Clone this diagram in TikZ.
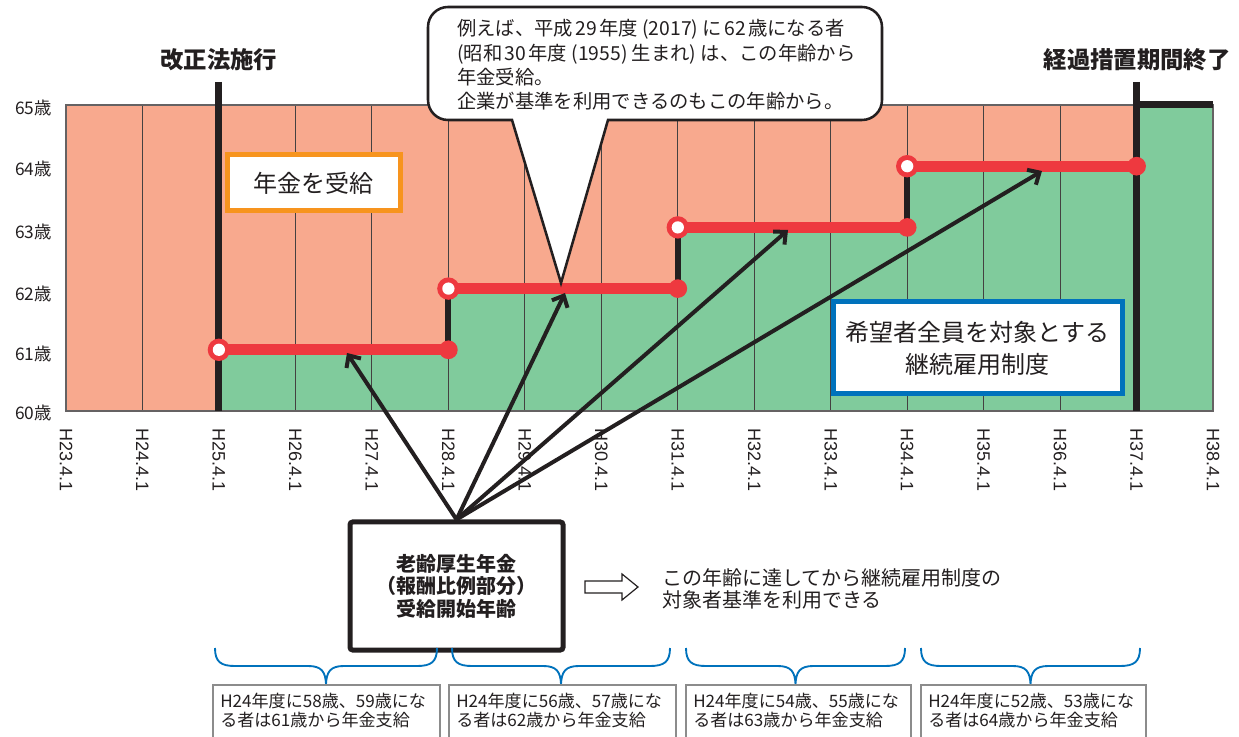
\documentclass[tikz,border=0pt]{standalone}
\usepackage{fontspec}
\setmainfont{Noto Sans CJK JP}
\newfontfamily\latf{Liberation Sans}
\usetikzlibrary{arrows.meta}
\definecolor{salmon}{HTML}{F8A98E}
\definecolor{grn}{HTML}{80CB9C}
\definecolor{redl}{HTML}{EE393F}
\definecolor{orng}{HTML}{F7941E}
\definecolor{blu}{HTML}{0072BC}
\definecolor{dk}{HTML}{231F20}
\definecolor{bgray}{HTML}{8C8C8C}
\newcommand{\ns}{\hspace{0.12em}}
\begin{document}
\begin{tikzpicture}[x=0.75pt,y=-0.75pt,
  gridln/.style={draw=dk!85, line width=0.8pt},
  frame/.style={draw=dk!70, line width=0.9pt},
  blk/.style={draw=dk, line width=5.25pt},
  stepln/.style={draw=dk, line width=4.5pt},
  redln/.style={draw=redl, line width=8.25pt},
  arr/.style={draw=dk, line width=3pt, -{Straight Barb[length=7pt,width=13pt]}},
  ylab/.style={anchor=east, inner sep=0pt, font=\fontsize{13}{15}\selectfont, text=dk},
  xlab/.style={anchor=west, rotate=-90, inner sep=0pt, font=\latf\fontsize{13.5}{15}\selectfont, text=dk},
  ttl/.style={font=\bfseries\fontsize{17.5}{20}\selectfont, text=dk},
  brc/.style={draw=blu, line width=1.4pt},
  bbox/.style={draw=bgray, line width=1.1pt, fill=white},
  btext/.style={anchor=north west, inner sep=0pt, align=left, font=\fontsize{12.8}{14.4}\selectfont, text=dk},
  callout/.style={draw=dk, line width=1.9pt, fill=white},
]
\useasboundingbox (0,0) rectangle (1239,737);
\clip (0,0) rectangle (1239,737);
% chart background
\fill[salmon] (66,105) rectangle (1213,411);
\fill[grn] (218.9,349.8) rectangle (448.4,411);
\fill[grn] (448.4,288.6) rectangle (677.8,411);
\fill[grn] (677.8,227.4) rectangle (907.2,411);
\fill[grn] (907.2,166.2) rectangle (1136.6,411);
\fill[grn] (1136.6,105) rectangle (1213,411);
\foreach \i in {1,...,14} \draw[gridln] ({66+76.47*\i},105) -- ({66+76.47*\i},411);
\draw[frame] (66,105) rectangle (1213,411);
% thick black lines
\draw[blk] (218.9,82) -- (218.9,411);
\draw[blk] (1136.6,82) -- (1136.6,411);
\draw[blk] (1136.6,105) -- (1213,105);
\draw[stepln] (448.4,288.6) -- (448.4,349.8);
\draw[stepln] (677.8,227.4) -- (677.8,288.6);
\draw[stepln] (907.2,166.2) -- (907.2,227.4);
% red step lines
\foreach \xa/\xb/\yy in {218.9/448.4/349.8, 448.4/677.8/288.6, 677.8/907.2/227.4, 907.2/1136.6/166.2}{
  \draw[redln] (\xa,\yy) -- (\xb,\yy);
  \fill[redl] (\xb,\yy) circle[radius=7pt];
  \fill[redl] (\xa,\yy) circle[radius=8.4pt];
  \fill[white] (\xa,\yy) circle[radius=4.6pt];
}
% axis labels
\foreach \a/\yy in {65/108, 64/169, 63/232, 62/294, 61/354, 60/413}
  \node[ylab] (y\a) at (52,\yy) {\a 歳};
\foreach \i [evaluate=\i as \yr using int(23+\i)] in {0,...,15}
  \node[xlab] (x\i) at ({66+76.47*\i},428) {H\yr.4.1};
% titles
\node[ttl] (law) at (218.9,60) {改正法施行};
\node[ttl] (endp) at (1137,60) {経過措置期間終了};
% legend boxes
\node[draw=orng, line width=3.75pt, fill=white, minimum width=129.75pt, minimum height=42pt,
      font=\fontsize{18}{22}\selectfont, text=dk] (pens) at (313.5,183) {年金を受給};
\node[draw=blu, line width=3.75pt, fill=white, minimum width=216.75pt, minimum height=69pt,
      align=center, font=\fontsize{18}{24}\selectfont, text=dk] (cont) at (977.5,348) {希望者全員を対象とする\\継続雇用制度};
% callout
\coordinate (ctip) at (561,283);
\draw[callout] (ctip) -- (608,120) [rounded corners=15pt] -- (882,120) -- (882,7) -- (428,7) -- (428,120) [sharp corners] -- (512,120) -- cycle;
\node[anchor=west, align=left, inner sep=0pt, font=\fontsize{14.5}{18.2}\selectfont, text=dk] (ctext) at (457,65)
  {例えば、平成\ns 29\ns 年度 (2017) に\ns 62\ns 歳になる者\\(昭和\ns 30\ns 年度 (1955) 生まれ) は、この年齢から\\年金受給。\\企業が基準を利用できるのもこの年齢から。};
% central box
\node[draw=dk, line width=3.75pt, rounded corners=2pt, fill=white, minimum width=159.75pt, minimum height=96pt,
      align=center, font=\bfseries\fontsize{15}{16.9}\selectfont, text=dk] (src) at (456.5,586)
  {老齢厚生年金\\（報酬比例部分）\\受給開始年齢};
% arrows
\coordinate (t1) at (347,353);
\coordinate (t2) at (565,293);
\coordinate (t3) at (788,230);
\coordinate (t4) at (1042,171);
\foreach \t in {t1,t2,t3,t4} \draw[arr] (src.north) -- (\t);
% hollow arrow and note
\draw[draw=dk, line width=0.9pt, fill=white] (585,581) -- (622,581) -- (622,574) -- (638,587) -- (622,600) -- (622,593) -- (585,593) -- cycle;
\node[anchor=west, align=left, inner sep=0pt, font=\fontsize{15}{16.8}\selectfont, text=dk] (note) at (662,589)
  {この年齢に達してから継続雇用制度の\\対象者基準を利用できる};
% braces
\foreach \xl/\xr in {215/437, 452/670, 686/905, 921/1140}{
  \pgfmathsetmacro{\xm}{(\xl+\xr)/2}
  \draw[brc] (\xl,648) .. controls (\xl,662) and (\xl+6,666) .. (\xl+20,666) -- (\xm-18,666)
     .. controls (\xm-5,666) and (\xm,671) .. (\xm,686)
     .. controls (\xm,671) and (\xm+5,666) .. (\xm+18,666) -- (\xr-20,666)
     .. controls (\xr-6,666) and (\xr,662) .. (\xr,648);
}
% bottom boxes
\draw[bbox] (213,685) rectangle (440,760);
\draw[bbox] (449,685) rectangle (676,760);
\draw[bbox] (686,685) rectangle (911,760);
\draw[bbox] (921,685) rectangle (1146,760);
\node[btext] (b1) at (220,693) {H24年度に58歳、59歳にな\\る者は61歳から年金支給};
\node[btext] (b2) at (456,693) {H24年度に56歳、57歳にな\\る者は62歳から年金支給};
\node[btext] (b3) at (693,693) {H24年度に54歳、55歳にな\\る者は63歳から年金支給};
\node[btext] (b4) at (928,693) {H24年度に52歳、53歳にな\\る者は64歳から年金支給};
\end{tikzpicture}
\end{document}
